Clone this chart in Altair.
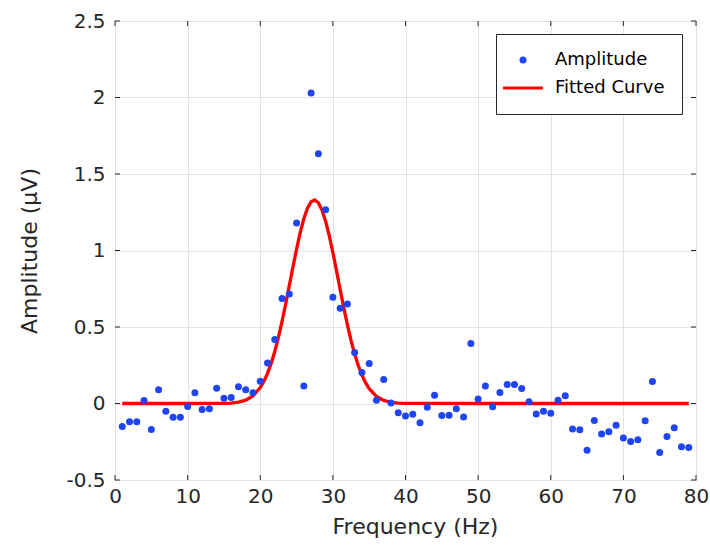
import altair as alt
import pandas as pd

# ---- data ----
freq = list(range(1, 80))
amplitude = [
    -0.15, -0.12, -0.12, 0.02, -0.17, 0.09, -0.05, -0.09, -0.09, -0.02,
    0.07, -0.04, -0.035, 0.10, 0.035, 0.04, 0.11, 0.09, 0.07, 0.145,
    0.265, 0.418, 0.687, 0.716, 1.179, 0.115, 2.03, 1.632, 1.266, 0.694,
    0.622, 0.650, 0.333, 0.202, 0.262, 0.022, 0.157, 0.004, -0.061, -0.081,
    -0.07, -0.126, -0.024, 0.054, -0.079, -0.076, -0.035, -0.089, 0.392, 0.030,
    0.115, -0.022, 0.072, 0.124, 0.124, 0.098, 0.011, -0.068, -0.050, -0.063,
    0.022, 0.050, -0.166, -0.172, -0.305, -0.111, -0.200, -0.185, -0.142, -0.226,
    -0.248, -0.237, -0.113, 0.144, -0.320, -0.215, -0.159, -0.283, -0.287,
]
fit_freq = [1, 10, 15, 16, 17, 18, 19, 20, 20.5, 21, 21.5, 22, 22.5, 23, 23.5,
            24, 24.5, 25, 25.5, 26, 26.5, 27, 27.5, 28, 28.5, 29, 29.5, 30,
            30.5, 31, 31.5, 32, 32.5, 33, 33.5, 34, 34.5, 35, 36, 37, 38, 39,
            40, 50, 60, 70, 79]
fit_amp = [0, 0, 0.001, 0.003, 0.009, 0.022, 0.050, 0.104, 0.145, 0.197, 0.262,
           0.340, 0.432, 0.536, 0.650, 0.770, 0.891, 1.009, 1.117, 1.208, 1.276,
           1.318, 1.330, 1.312, 1.264, 1.191, 1.097, 0.987, 0.868, 0.746, 0.626,
           0.514, 0.412, 0.323, 0.248, 0.185, 0.136, 0.097, 0.046, 0.020, 0.008,
           0.003, 0.001, 0, 0, 0, 0]
x_ticks = [0, 10, 20, 30, 40, 50, 60, 70, 80]
y_ticks = [-0.5, 0, 0.5, 1, 1.5, 2, 2.5]
series = ["Amplitude", "Fitted Curve"]

# ---- styling ----
W, H = 581, 459
FONT = "DejaVu Sans"
INK = "#262626"
BLUE = "#1f45f2"
RED = "#ff0000"
GRID = "#e3e3e3"
LINE_SYMBOL = "M-5.7,-0.45L5.7,-0.45L5.7,0.45L-5.7,0.45Z"

pts_df = pd.DataFrame({"freq": freq, "amp": amplitude, "series": "Amplitude"})
fit_df = pd.DataFrame({"freq": fit_freq, "amp": fit_amp})
xt_df = pd.DataFrame({"freq": x_ticks})
yt_df = pd.DataFrame({"amp": y_ticks})

xscale = alt.Scale(domain=[0, 80], nice=False, zero=False)
yscale = alt.Scale(domain=[-0.5, 2.5], nice=False, zero=False)

xaxis = alt.Axis(
    values=x_ticks, title="Frequency (Hz)", labelExpr="'' + datum.value",
    grid=True, gridColor=GRID, gridWidth=1, domain=False, ticks=False,
    labelFont=FONT, labelFontSize=20, labelColor=INK, labelPadding=6,
    titleFont=FONT, titleFontSize=22, titleFontWeight="normal", titleColor=INK,
    titlePadding=10, titleX=300, labelFlush=False,
)
yaxis = alt.Axis(
    values=y_ticks, title="Amplitude (μV)", labelExpr="'' + datum.value",
    grid=True, gridColor=GRID, gridWidth=1, domain=False, ticks=False,
    labelFont=FONT, labelFontSize=20, labelColor=INK, labelPadding=10,
    titleFont=FONT, titleFontSize=22, titleFontWeight="normal", titleColor=INK,
    titlePadding=24, labelFlush=False,
)

leg = alt.Legend(
    title=None, orient="none", legendX=381, legendY=13,
    fillColor="white", strokeColor=INK, padding=17,
    labelFont=FONT, labelFontSize=18, labelColor="black",
    symbolSize=49, symbolStrokeWidth=0, rowPadding=10, labelOffset=23,
    symbolOffset=1,
)

fit_line = alt.Chart(fit_df).mark_line(color=RED, strokeWidth=3.3).encode(
    x=alt.X("freq:Q", scale=xscale, axis=xaxis),
    y=alt.Y("amp:Q", scale=yscale, axis=yaxis),
)

points = alt.Chart(pts_df).mark_point(filled=True, opacity=1).encode(
    x=alt.X("freq:Q"),
    y=alt.Y("amp:Q"),
    color=alt.Color("series:N", scale=alt.Scale(domain=series, range=[BLUE, RED]), legend=leg),
    shape=alt.Shape("series:N", scale=alt.Scale(domain=series, range=["circle", LINE_SYMBOL]), legend=leg),
    size=alt.value(49),
)

bottom_ticks = alt.Chart(xt_df).mark_rule(color=INK, strokeWidth=1).encode(
    x="freq:Q", y=alt.value(H), y2=alt.value(H - 5))
top_ticks = alt.Chart(xt_df).mark_rule(color=INK, strokeWidth=1).encode(
    x="freq:Q", y=alt.value(0), y2=alt.value(5))
left_ticks = alt.Chart(yt_df).mark_rule(color=INK, strokeWidth=1).encode(
    y="amp:Q", x=alt.value(0), x2=alt.value(5))
right_ticks = alt.Chart(yt_df).mark_rule(color=INK, strokeWidth=1).encode(
    y="amp:Q", x=alt.value(W), x2=alt.value(W - 5))

chart = alt.layer(
    fit_line, points, bottom_ticks, top_ticks, left_ticks, right_ticks
).properties(
    width=W, height=H,
    padding={"left": 115, "top": 21, "right": 14, "bottom": 69},
    autosize="none",
    background="white",
).configure_view(stroke=INK, strokeWidth=1)

chart.save("out.html", embed_options={"renderer": "svg", "actions": False})
